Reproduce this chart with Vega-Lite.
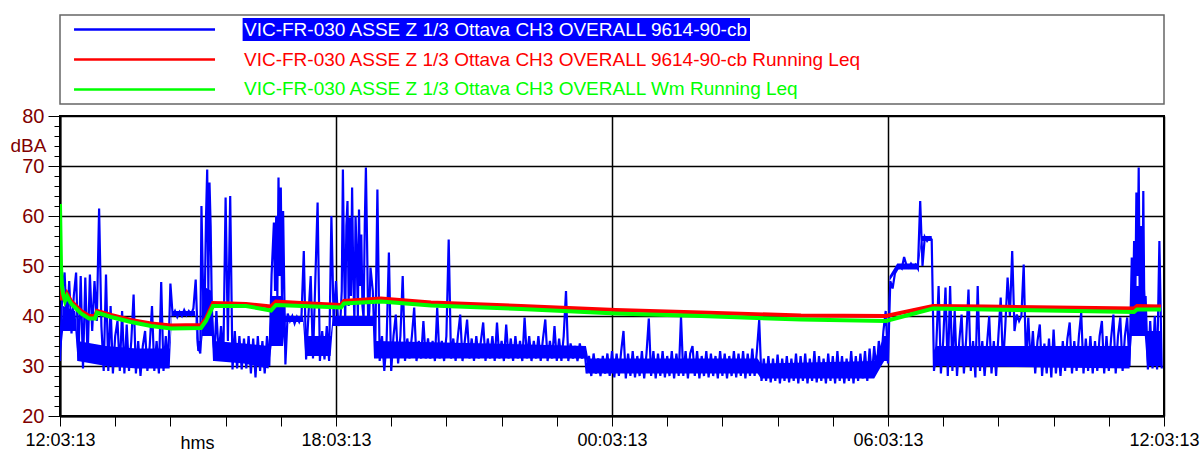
{
  "$schema": "https://vega.github.io/schema/vega-lite/v6.json",
  "background": "white",
  "padding": {"left": 9, "top": 14, "right": 0, "bottom": 0},
  "spacing": 12,
  "bounds": "flush",
  "config": {"font": "Liberation Sans, Arial, sans-serif"},
  "datasets": {
    "legend": [
      {"i": 0, "s": "VIC-FR-030 ASSE Z 1/3 Ottava CH3 OVERALL 9614-90-cb"},
      {"i": 1, "s": "VIC-FR-030 ASSE Z 1/3 Ottava CH3 OVERALL 9614-90-cb Running Leq"},
      {"i": 2, "s": "VIC-FR-030 ASSE Z 1/3 Ottava CH3 OVERALL Wm Running Leq"}
    ],
    "band": [
      {"m":0,"lo":31,"hi":34},{"m":4,"lo":37,"hi":42},{"m":20,"lo":37,"hi":41},{"m":23,"lo":31,"hi":35},{"m":60,"lo":30,"hi":34},{"m":100,"lo":29.5,"hi":33.5},{"m":143,"lo":29.5,"hi":33.5},{"m":146,"lo":40,"hi":41},{"m":176,"lo":40,"hi":41},{"m":179,"lo":33,"hi":35},{"m":184,"lo":33,"hi":35},{"m":186,"lo":36,"hi":46},{"m":198,"lo":36,"hi":45},{"m":201,"lo":31,"hi":35},{"m":240,"lo":30.5,"hi":34.5},{"m":272,"lo":29.5,"hi":34},{"m":276,"lo":34,"hi":44},{"m":291,"lo":34,"hi":44},{"m":294,"lo":38.8,"hi":40},{"m":317,"lo":38.8,"hi":40},{"m":320,"lo":32,"hi":36},{"m":353,"lo":32,"hi":36},{"m":356,"lo":38,"hi":40},{"m":409,"lo":38,"hi":40},{"m":412,"lo":31.5,"hi":35},{"m":560,"lo":31.5,"hi":34.5},{"m":686,"lo":31.5,"hi":34},{"m":689,"lo":28.5,"hi":31.5},{"m":910,"lo":28.5,"hi":31.5},{"m":914,"lo":27.5,"hi":30.5},{"m":1062,"lo":27.5,"hi":31},{"m":1075,"lo":31,"hi":36},{"m":1079,"lo":31,"hi":36},{"m":1082,"lo":47,"hi":48},{"m":1092,"lo":49.3,"hi":50.5},{"m":1119,"lo":49.3,"hi":50.5},{"m":1124,"lo":55,"hi":56},{"m":1137,"lo":55,"hi":56},{"m":1140,"lo":29.5,"hi":33},{"m":1143,"lo":30,"hi":34},{"m":1395,"lo":29.5,"hi":34},{"m":1398,"lo":36,"hi":46},{"m":1415,"lo":36,"hi":46},{"m":1418,"lo":30,"hi":37},{"m":1437,"lo":30,"hi":37}
    ],
    "red": [
      {"m":0.65,"v":46},{"m":2.6,"v":43.5},{"m":6.5,"v":43.5},{"m":9.1,"v":44.5},{"m":14.3,"v":43},{"m":27.4,"v":41},{"m":37.8,"v":40},{"m":45.7,"v":40},{"m":48.3,"v":41},{"m":66.5,"v":40.2},{"m":92.6,"v":39.2},{"m":118.7,"v":38.5},{"m":144.8,"v":38.1},{"m":183.9,"v":38.2},{"m":190.4,"v":39.5},{"m":199.6,"v":42.6},{"m":223,"v":42.5},{"m":242.6,"v":42.4},{"m":275.2,"v":41.9},{"m":281.7,"v":42.9},{"m":314.3,"v":42.6},{"m":366.5,"v":42.2},{"m":370.4,"v":43},{"m":418.7,"v":43.5},{"m":483.9,"v":42.7},{"m":601.3,"v":42},{"m":725.2,"v":41.2},{"m":836,"v":40.7},{"m":966.5,"v":40.1},{"m":1077.4,"v":40},{"m":1138.7,"v":42},{"m":1207.8,"v":41.9},{"m":1400.9,"v":41.5},{"m":1404.8,"v":42},{"m":1436.1,"v":41.9}
    ],
    "green": [
      {"m":0,"v":62.4},{"m":1.3,"v":50},{"m":2.6,"v":46},{"m":3.9,"v":44.5},{"m":6.5,"v":43},{"m":9.1,"v":44},{"m":14.3,"v":42.5},{"m":27.4,"v":40.5},{"m":37.8,"v":39.5},{"m":45.7,"v":39.5},{"m":48.3,"v":40.7},{"m":66.5,"v":39.8},{"m":92.6,"v":38.8},{"m":118.7,"v":38},{"m":144.8,"v":37.5},{"m":183.9,"v":37.6},{"m":190.4,"v":39},{"m":199.6,"v":42},{"m":242.6,"v":42},{"m":275.2,"v":41.1},{"m":281.7,"v":42.2},{"m":366.5,"v":41.7},{"m":370.4,"v":42.5},{"m":418.7,"v":42.9},{"m":483.9,"v":42.1},{"m":601.3,"v":41.4},{"m":725.2,"v":40.5},{"m":836,"v":40},{"m":966.5,"v":39.3},{"m":1077.4,"v":39},{"m":1138.7,"v":41.5},{"m":1207.8,"v":41.3},{"m":1400.9,"v":40.8},{"m":1404.8,"v":41.3},{"m":1436.1,"v":41.3}
    ],
    "blue": [
      {"m":0,"v":31},{"m":3,"v":45},{"m":6,"v":48.7},{"m":9,"v":38},{"m":12,"v":47},{"m":15,"v":36.5},{"m":18,"v":44},{"m":21,"v":48.7},{"m":24,"v":31},{"m":27,"v":48},
      {"m":30,"v":29.5},{"m":33,"v":47.7},{"m":36,"v":31.5},{"m":39,"v":48.3},{"m":42,"v":37},{"m":45,"v":47},{"m":48,"v":39},{"m":51,"v":61.5},{"m":54,"v":38},{"m":57,"v":29},
      {"m":60,"v":48.3},{"m":63,"v":29},{"m":66,"v":42},{"m":69,"v":28.5},{"m":72,"v":36},{"m":75,"v":39},{"m":78,"v":29},{"m":81,"v":41},{"m":84,"v":28.5},{"m":87,"v":38.3},
      {"m":90,"v":29},{"m":93,"v":35},{"m":96,"v":44.3},{"m":99,"v":28.5},{"m":102,"v":35},{"m":105,"v":28},{"m":108,"v":34},{"m":111,"v":37},{"m":114,"v":29},{"m":117,"v":34},
      {"m":120,"v":42},{"m":123,"v":29},{"m":126,"v":35},{"m":129,"v":28.5},{"m":132,"v":46.8},{"m":135,"v":29},{"m":138,"v":36},{"m":141,"v":30},{"m":144,"v":46.5},{"m":147,"v":40},
      {"m":150,"v":41},{"m":153,"v":39.8},{"m":156,"v":40.8},{"m":159,"v":40},{"m":162,"v":41.2},{"m":165,"v":40.2},{"m":168,"v":41},{"m":171,"v":40.3},{"m":174,"v":41.5},{"m":177,"v":47.3},
      {"m":180,"v":34},{"m":183,"v":32.5},{"m":184.5,"v":62},{"m":186,"v":50},{"m":187.5,"v":38},{"m":189,"v":45},{"m":190.5,"v":60},{"m":192,"v":69.3},{"m":193.5,"v":45},{"m":195,"v":66.7},{"m":196.5,"v":58},{"m":198,"v":42},
      {"m":201,"v":31},{"m":204,"v":41},{"m":207,"v":32},{"m":210,"v":38},{"m":213,"v":31},{"m":216,"v":63.7},{"m":219,"v":35},{"m":222,"v":64},{"m":225,"v":29.3},{"m":228,"v":37},
      {"m":231,"v":29.5},{"m":234,"v":36},{"m":237,"v":29.3},{"m":240,"v":35.5},{"m":243,"v":29.5},{"m":246,"v":36},{"m":249,"v":28.5},{"m":252,"v":35.5},{"m":255,"v":27.7},{"m":258,"v":36},
      {"m":261,"v":29},{"m":264,"v":35},{"m":267,"v":28.5},{"m":270,"v":36},{"m":273,"v":30},{"m":276,"v":48.3},{"m":279,"v":58.7},{"m":280.5,"v":45},{"m":282,"v":60},{"m":283.5,"v":44},{"m":285,"v":67.7},{"m":286.5,"v":48},{"m":288,"v":65.7},{"m":289.5,"v":44},{"m":291,"v":61},
      {"m":294,"v":30.3},{"m":297,"v":40.5},{"m":300,"v":39},{"m":303,"v":40},{"m":306,"v":38.5},{"m":309,"v":39.8},{"m":312,"v":38.8},{"m":315,"v":40},{"m":318,"v":53},{"m":321,"v":31.3},
      {"m":324,"v":40},{"m":327,"v":48},{"m":330,"v":31.5},{"m":333,"v":47},{"m":336,"v":62.7},{"m":339,"v":31},{"m":342,"v":37},{"m":345,"v":31.3},{"m":348,"v":38},{"m":351,"v":31},
      {"m":354,"v":60},{"m":357,"v":38.5},{"m":360,"v":47},{"m":363,"v":38},{"m":366,"v":40},{"m":367.5,"v":45},{"m":369,"v":69.3},{"m":370.5,"v":50},{"m":372,"v":39},{"m":373.5,"v":58},{"m":375,"v":63},{"m":376.5,"v":42},{"m":378,"v":59.7},{"m":379.5,"v":44},
      {"m":381,"v":65.7},{"m":382.5,"v":48},{"m":384,"v":39},{"m":385.5,"v":60},{"m":387,"v":52.3},{"m":388.5,"v":40},{"m":390,"v":61.3},{"m":391.5,"v":46},{"m":393,"v":56.3},{"m":394.5,"v":42},{"m":396,"v":39.5},{"m":397.5,"v":58},{"m":399,"v":69.7},{"m":400.5,"v":55},{"m":402,"v":38},{"m":403.5,"v":41},
      {"m":405,"v":49.7},{"m":408,"v":45},{"m":411,"v":31.5},{"m":414,"v":65.3},{"m":417,"v":31},{"m":420,"v":36},{"m":423,"v":29},{"m":426,"v":35},{"m":429,"v":52.7},{"m":432,"v":29},
      {"m":435,"v":36},{"m":438,"v":40.3},{"m":441,"v":30.5},{"m":444,"v":36},{"m":447,"v":48},{"m":450,"v":31},{"m":453,"v":35.5},{"m":456,"v":31.5},{"m":459,"v":36},{"m":462,"v":41.7},
      {"m":465,"v":31},{"m":468,"v":35},{"m":471,"v":31.5},{"m":474,"v":39},{"m":477,"v":31.5},{"m":480,"v":35.5},{"m":483,"v":31.5},{"m":486,"v":35},{"m":489,"v":31},{"m":492,"v":41.7},
      {"m":495,"v":31.5},{"m":498,"v":35},{"m":501,"v":31},{"m":504,"v":36},{"m":507,"v":55.3},{"m":510,"v":31.5},{"m":513,"v":35.5},{"m":516,"v":31},{"m":519,"v":36},{"m":522,"v":40.3},
      {"m":525,"v":31},{"m":528,"v":35},{"m":531,"v":39.3},{"m":534,"v":31.5},{"m":537,"v":35.5},{"m":540,"v":31},{"m":543,"v":36},{"m":546,"v":31.5},{"m":549,"v":35},{"m":552,"v":38.7},
      {"m":555,"v":31},{"m":558,"v":35.5},{"m":561,"v":31.5},{"m":564,"v":36},{"m":567,"v":31},{"m":570,"v":38.7},{"m":573,"v":31.5},{"m":576,"v":35},{"m":579,"v":31},{"m":582,"v":38.3},
      {"m":585,"v":31.5},{"m":588,"v":35.5},{"m":591,"v":31},{"m":594,"v":36},{"m":597,"v":31.5},{"m":600,"v":35},{"m":603,"v":31},{"m":606,"v":39.7},{"m":609,"v":31.5},{"m":612,"v":36},
      {"m":615,"v":31},{"m":618,"v":35},{"m":621,"v":31.5},{"m":624,"v":36},{"m":627,"v":31},{"m":630,"v":35.5},{"m":633,"v":39.3},{"m":636,"v":31},{"m":639,"v":35},{"m":642,"v":31.5},
      {"m":645,"v":38},{"m":648,"v":31},{"m":651,"v":35.5},{"m":654,"v":31},{"m":657,"v":36},{"m":660,"v":45},{"m":663,"v":31},{"m":666,"v":34.5},{"m":669,"v":31.5},{"m":672,"v":34},
      {"m":675,"v":31},{"m":678,"v":34.5},{"m":681,"v":31.5},{"m":684,"v":33.5},{"m":687,"v":28.5},{"m":690,"v":32},{"m":693,"v":28},{"m":696,"v":32.5},{"m":699,"v":28.5},{"m":702,"v":31.5},
      {"m":705,"v":28},{"m":708,"v":32},{"m":711,"v":28.5},{"m":714,"v":32.5},{"m":717,"v":28},{"m":720,"v":33},{"m":723,"v":27.7},{"m":726,"v":32.5},{"m":729,"v":28},{"m":732,"v":33},
      {"m":735,"v":37},{"m":738,"v":27.5},{"m":741,"v":32.5},{"m":744,"v":28},{"m":747,"v":33},{"m":750,"v":27.7},{"m":753,"v":32},{"m":756,"v":28},{"m":759,"v":33},{"m":762,"v":27.5},
      {"m":765,"v":32.5},{"m":768,"v":39.5},{"m":771,"v":28},{"m":774,"v":33},{"m":777,"v":27.5},{"m":780,"v":32.5},{"m":783,"v":28},{"m":786,"v":33},{"m":789,"v":27.7},{"m":792,"v":32},
      {"m":795,"v":28},{"m":798,"v":33},{"m":801,"v":27.5},{"m":804,"v":32.5},{"m":807,"v":28},{"m":810,"v":39.9},{"m":813,"v":28},{"m":816,"v":33},{"m":819,"v":27.5},{"m":822,"v":32.5},
      {"m":825,"v":34},{"m":828,"v":28},{"m":831,"v":33},{"m":834,"v":27.5},{"m":837,"v":32},{"m":840,"v":28},{"m":843,"v":33},{"m":846,"v":27.7},{"m":849,"v":32.5},{"m":852,"v":28},
      {"m":855,"v":32},{"m":858,"v":27.5},{"m":861,"v":33},{"m":864,"v":28},{"m":867,"v":32.5},{"m":870,"v":27.5},{"m":873,"v":32},{"m":876,"v":28},{"m":879,"v":33},{"m":882,"v":27.7},
      {"m":885,"v":32.5},{"m":888,"v":28},{"m":891,"v":33},{"m":894,"v":27.5},{"m":897,"v":32.5},{"m":900,"v":28},{"m":903,"v":33.5},{"m":906,"v":28},{"m":909,"v":33},{"m":912,"v":39.2},
      {"m":915,"v":27},{"m":918,"v":31.5},{"m":921,"v":27},{"m":924,"v":32},{"m":927,"v":26.7},{"m":930,"v":31.5},{"m":933,"v":27},{"m":936,"v":32.3},{"m":939,"v":26.5},{"m":942,"v":31.5},
      {"m":945,"v":27},{"m":948,"v":32},{"m":951,"v":26.7},{"m":954,"v":31.5},{"m":957,"v":27},{"m":960,"v":32.5},{"m":963,"v":26.5},{"m":966,"v":32},{"m":969,"v":27},{"m":972,"v":32.5},
      {"m":975,"v":26.5},{"m":978,"v":31.5},{"m":981,"v":27},{"m":984,"v":33},{"m":987,"v":26.7},{"m":990,"v":32},{"m":993,"v":27},{"m":996,"v":31.5},{"m":999,"v":26.5},{"m":1002,"v":32.5},
      {"m":1005,"v":27},{"m":1008,"v":32},{"m":1011,"v":26.5},{"m":1014,"v":33},{"m":1017,"v":27},{"m":1020,"v":32},{"m":1023,"v":26.5},{"m":1026,"v":31.5},{"m":1029,"v":27},{"m":1032,"v":33},
      {"m":1035,"v":26.5},{"m":1038,"v":32},{"m":1041,"v":27},{"m":1044,"v":32.5},{"m":1047,"v":27.5},{"m":1050,"v":33},{"m":1053,"v":27},{"m":1056,"v":33.5},{"m":1059,"v":28},{"m":1062,"v":34},
      {"m":1065,"v":29},{"m":1068,"v":35},{"m":1071,"v":31},{"m":1074,"v":37},{"m":1077,"v":41},{"m":1080,"v":30.5},{"m":1083,"v":47},{"m":1086,"v":45.5},{"m":1089,"v":48.5},{"m":1092,"v":49.3},
      {"m":1095,"v":50},{"m":1098,"v":49.5},{"m":1101,"v":51.8},{"m":1104,"v":50.2},{"m":1107,"v":49.7},{"m":1110,"v":50.5},{"m":1113,"v":49.8},{"m":1116,"v":50.3},{"m":1119,"v":49.5},{"m":1122,"v":63},
      {"m":1125,"v":50},{"m":1128,"v":55.8},{"m":1131,"v":55},{"m":1134,"v":55.7},{"m":1137,"v":55.3},{"m":1140,"v":29},{"m":1143,"v":34},{"m":1146,"v":46},{"m":1149,"v":28.5},{"m":1152,"v":35},
      {"m":1155,"v":45.7},{"m":1158,"v":28},{"m":1161,"v":46},{"m":1164,"v":29},{"m":1167,"v":41},{"m":1170,"v":28},{"m":1173,"v":35},{"m":1176,"v":40.3},{"m":1179,"v":28.5},{"m":1182,"v":35.5},
      {"m":1185,"v":45.3},{"m":1188,"v":29},{"m":1191,"v":35},{"m":1194,"v":27.7},{"m":1197,"v":46},{"m":1200,"v":29},{"m":1203,"v":35},{"m":1206,"v":28},{"m":1209,"v":34},{"m":1212,"v":40},
      {"m":1215,"v":28.5},{"m":1218,"v":35},{"m":1221,"v":28},{"m":1224,"v":36},{"m":1227,"v":43.7},{"m":1230,"v":30},{"m":1233,"v":38},{"m":1236,"v":47.7},{"m":1239,"v":40},{"m":1242,"v":53},
      {"m":1245,"v":37},{"m":1248,"v":40.3},{"m":1251,"v":39},{"m":1254,"v":40},{"m":1257,"v":50.3},{"m":1260,"v":30.5},{"m":1263,"v":39.7},{"m":1266,"v":30.3},{"m":1269,"v":37},{"m":1272,"v":28.5},
      {"m":1275,"v":35},{"m":1278,"v":38.3},{"m":1281,"v":28},{"m":1284,"v":34.5},{"m":1287,"v":28.5},{"m":1290,"v":35.5},{"m":1293,"v":27.7},{"m":1296,"v":37.3},{"m":1299,"v":28.5},{"m":1302,"v":34},
      {"m":1305,"v":28},{"m":1308,"v":35},{"m":1311,"v":29},{"m":1314,"v":35.5},{"m":1317,"v":38.7},{"m":1320,"v":28.5},{"m":1323,"v":35},{"m":1326,"v":29},{"m":1329,"v":36},{"m":1332,"v":40.7},
      {"m":1335,"v":28.5},{"m":1338,"v":35.5},{"m":1341,"v":29},{"m":1344,"v":36},{"m":1347,"v":28.5},{"m":1350,"v":35},{"m":1353,"v":29},{"m":1356,"v":36},{"m":1359,"v":39},{"m":1362,"v":28.5},
      {"m":1365,"v":36},{"m":1368,"v":29},{"m":1371,"v":35.5},{"m":1374,"v":40.3},{"m":1377,"v":28.5},{"m":1380,"v":36},{"m":1383,"v":39.7},{"m":1386,"v":29},{"m":1389,"v":36},{"m":1392,"v":39.7},
      {"m":1395,"v":30},{"m":1398,"v":51.7},{"m":1399.5,"v":40},{"m":1401,"v":55},{"m":1402.5,"v":42},{"m":1404,"v":64.7},{"m":1405.5,"v":48},{"m":1407,"v":69.7},{"m":1408.5,"v":40},{"m":1410,"v":58},{"m":1411.5,"v":36},{"m":1413,"v":65},{"m":1414.5,"v":38},
      {"m":1416,"v":44},{"m":1419,"v":29.3},{"m":1422,"v":39},{"m":1425,"v":29.5},{"m":1428,"v":40},{"m":1431,"v":29.3},{"m":1434,"v":55},{"m":1437,"v":29.5}
    ]
  },
  "vconcat": [
    {
      "width": 1104,
      "height": 89,
      "view": {"stroke": "#666666", "strokeWidth": 1.5, "fill": "white"},
      "data": {"name": "legend"},
      "encoding": {
        "y": {"field": "s", "type": "nominal", "axis": null,
          "scale": {"type": "band", "paddingInner": 0.233, "paddingOuter": 0.1,
            "domain": ["VIC-FR-030 ASSE Z 1/3 Ottava CH3 OVERALL 9614-90-cb", "VIC-FR-030 ASSE Z 1/3 Ottava CH3 OVERALL 9614-90-cb Running Leq", "VIC-FR-030 ASSE Z 1/3 Ottava CH3 OVERALL Wm Running Leq"]}}
      },
      "layer": [
        {
          "mark": {"type": "rule", "strokeWidth": 2.5},
          "encoding": {
            "x": {"datum": 18.3, "type": "quantitative", "axis": null, "scale": {"domain": [0, 1440], "nice": false, "zero": false}},
            "x2": {"datum": 202.2},
            "color": {"field": "s", "type": "nominal", "legend": null,
              "scale": {"domain": ["VIC-FR-030 ASSE Z 1/3 Ottava CH3 OVERALL 9614-90-cb", "VIC-FR-030 ASSE Z 1/3 Ottava CH3 OVERALL 9614-90-cb Running Leq", "VIC-FR-030 ASSE Z 1/3 Ottava CH3 OVERALL Wm Running Leq"], "range": ["#0000ff", "#ff0000", "#00ff00"]}}
          }
        },
        {
          "transform": [{"filter": "datum.i == 0"}],
          "mark": {"type": "bar", "color": "#0000ff"},
          "encoding": {
            "x": {"datum": 238.2, "type": "quantitative"},
            "x2": {"datum": 900}
          }
        },
        {
          "mark": {"type": "text", "align": "left", "baseline": "middle", "fontSize": 19},
          "encoding": {
            "x": {"datum": 240, "type": "quantitative"},
            "text": {"field": "s"},
            "color": {"condition": {"test": "datum.i == 0", "value": "#ffffff"}, "field": "s", "type": "nominal", "legend": null}
          }
        }
      ]
    },
    {
      "width": 1104,
      "height": 300,
      "view": {"stroke": "#000000", "strokeWidth": 2},
      "encoding": {
        "x": {"field": "m", "type": "quantitative",
          "scale": {"domain": [0, 1440], "nice": false, "zero": false},
          "axis": {
            "values": [0,72,144,216,288,360,432,504,576,648,720,792,864,936,1008,1080,1152,1224,1296,1368,1440],
            "labelExpr": "datum.value == 0 ? '12:03:13' : datum.value == 360 ? '18:03:13' : datum.value == 720 ? '00:03:13' : datum.value == 1080 ? '06:03:13' : datum.value == 1440 ? '12:03:13' : ''",
            "labelFlush": false, "labelOverlap": false, "labelBound": false,
            "labelFontSize": 18, "labelColor": "#000000", "labelPadding": 5,
            "tickSize": 10, "tickColor": "#000000", "tickWidth": 1,
            "domainColor": "#000000", "domainWidth": 2,
            "grid": true, "gridColor": "#000000", "gridWidth": 1.5,
            "gridOpacity": {"condition": {"test": "datum.value % 360 == 0", "value": 1}, "value": 0},
            "title": "hms", "titleX": 137, "titleY": 32, "titleAlign": "center", "titleBaseline": "alphabetic",
            "titleFontSize": 18, "titleFontWeight": "normal", "titleColor": "#000000"
          }
        },
        "y": {"field": "v", "type": "quantitative",
          "scale": {"domain": [20, 80], "nice": false, "zero": false},
          "axis": {
            "values": [20,22,24,26,28,30,32,34,36,38,40,42,44,46,48,50,52,54,56,58,60,62,64,66,68,70,72,74,76,78,80],
            "labelExpr": "datum.value % 10 == 0 ? datum.label : ''",
            "labelFontSize": 20, "labelColor": "#800000", "labelPadding": 4, "labelOverlap": false, "labelBound": false,
            "tickSize": {"condition": {"test": "datum.value % 10 == 0", "value": 12}, "value": 6},
            "tickColor": "#000000", "tickWidth": 1,
            "domainColor": "#000000", "domainWidth": 2,
            "grid": true, "gridColor": "#000000", "gridWidth": 1.5,
            "gridOpacity": {"condition": {"test": "datum.value % 10 == 0", "value": 1}, "value": 0},
            "title": "dBA", "titleAngle": 0, "titleX": -50, "titleY": 35, "titleAlign": "left", "titleBaseline": "alphabetic",
            "titleFontSize": 19, "titleFontWeight": "normal", "titleColor": "#800000"
          }
        }
      },
      "layer": [
        {"data": {"name": "band"}, "mark": {"type": "area", "color": "#0000ff", "opacity": 1, "clip": true},
         "encoding": {"y": {"field": "lo", "type": "quantitative"}, "y2": {"field": "hi"}}},
        {"data": {"name": "blue"}, "mark": {"type": "line", "color": "#0000ff", "strokeWidth": 2.2, "clip": true}},
        {"data": {"name": "red"}, "mark": {"type": "line", "color": "#ff0000", "strokeWidth": 4, "clip": true}},
        {"data": {"name": "green"}, "mark": {"type": "line", "color": "#00ff00", "strokeWidth": 4, "clip": true}}
      ]
    }
  ]
}
